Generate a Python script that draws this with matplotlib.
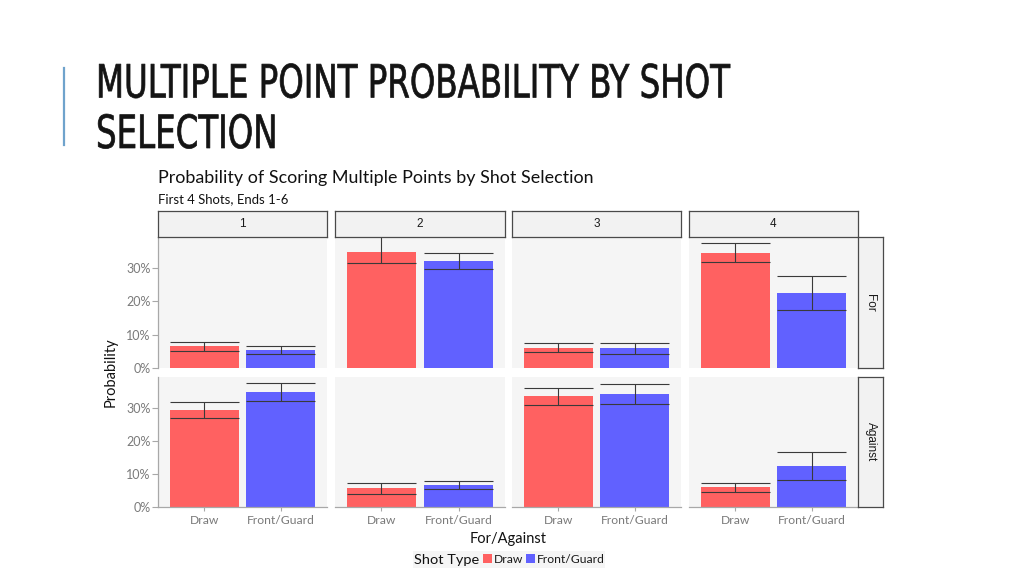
import matplotlib
matplotlib.use("Agg")
import matplotlib.pyplot as plt
from matplotlib import patheffects, font_manager
from matplotlib.transforms import Affine2D
from matplotlib.lines import Line2D
from matplotlib.patches import Rectangle

# ---------------- data ----------------
shots = ["1", "2", "3", "4"]
rows = ["For", "Against"]
shot_types = ["Draw", "Front/Guard"]

for_draw = [0.065, 0.348, 0.060, 0.346]
for_draw_lo = [0.051, 0.315, 0.047, 0.318]
for_draw_hi = [0.079, 0.400, 0.074, 0.374]
for_fg = [0.053, 0.320, 0.060, 0.226]
for_fg_lo = [0.041, 0.296, 0.042, 0.175]
for_fg_hi = [0.067, 0.344, 0.076, 0.277]

against_draw = [0.293, 0.056, 0.335, 0.059]
against_draw_lo = [0.268, 0.039, 0.307, 0.044]
against_draw_hi = [0.316, 0.073, 0.361, 0.072]
against_fg = [0.348, 0.067, 0.342, 0.124]
against_fg_lo = [0.319, 0.054, 0.310, 0.083]
against_fg_hi = [0.375, 0.080, 0.372, 0.165]

y_ticks = [0.0, 0.1, 0.2, 0.3]
y_tick_labels = ["0%", "10%", "20%", "30%"]

slide_title = ["MULTIPLE POINT PROBABILITY BY SHOT", "SELECTION"]
chart_title = "Probability of Scoring Multiple Points by Shot Selection"
chart_subtitle = "First 4 Shots, Ends 1-6"
legend_title = "Shot Type"

values = {
    "For": [(for_draw, for_draw_lo, for_draw_hi), (for_fg, for_fg_lo, for_fg_hi)],
    "Against": [(against_draw, against_draw_lo, against_draw_hi),
                (against_fg, against_fg_lo, against_fg_hi)],
}

# ---------------- style ----------------
RED = "#FF6161"
BLUE = "#6161FF"
colors = [RED, BLUE]
PANEL_BG = "#F5F5F5"
STRIP_BG = "#F2F2F2"
AXIS_GRAY = "#A8A8A8"
TICK_GRAY = "#7A7A7A"
TITLE_COLOR = "#141414"
CHART_FONT = ["Lato", "DejaVu Sans"]
STRIP_FONT = ["Liberation Sans", "DejaVu Sans"]

installed = {f.name for f in font_manager.fontManager.ttflist}
if "Liberation Sans Narrow" in installed:
    TITLE_FONT = ["Liberation Sans Narrow", "DejaVu Sans"]
    TITLE_STRETCH = "normal"
else:
    TITLE_FONT = ["DejaVu Sans"]
    TITLE_STRETCH = "condensed"

W, H = 1024, 576
fig = plt.figure(figsize=(W / 100, H / 100), dpi=100)
fig.patch.set_facecolor("white")
renderer = fig.canvas.get_renderer()


def rect(x0, y0, x1, y1):
    return [x0 / W, 1 - y1 / H, (x1 - x0) / W, (y1 - y0) / H]


def fx(x):
    return x / W


def fy(y):
    return 1 - y / H


class Condense(patheffects.AbstractPathEffect):
    """Horizontally condense glyphs and add a thin outline to thicken strokes."""

    def __init__(self, sx, lw=0.0, color="black"):
        super().__init__()
        self.sx = sx
        self.lw = lw
        self.color = color

    def draw_path(self, renderer, gc, tpath, affine, rgbFace=None):
        tr = Affine2D().scale(self.sx, 1) + affine
        gc0 = renderer.new_gc()
        gc0.copy_properties(gc)
        gc0.set_linewidth(self.lw)
        gc0.set_foreground(self.color)
        gc0.set_joinstyle("round")
        renderer.draw_path(gc0, tpath, tr, rgbFace)
        gc0.restore()


def fit_width(t, target):
    w = t.get_window_extent(renderer).width
    t.set_fontsize(t.get_fontsize() * target / w)


# ---------------- slide title ----------------
fig.add_artist(Line2D([fx(64), fx(64)], [fy(68), fy(145)], color="#6FA3CC", lw=1.6))
t1 = fig.text(fx(96), fy(97.5), slide_title[0], fontsize=33, color=TITLE_COLOR,
              family=TITLE_FONT, stretch=TITLE_STRETCH, weight="normal",
              va="baseline", ha="left")
t2 = fig.text(fx(96), fy(148), slide_title[1], fontsize=33, color=TITLE_COLOR,
              family=TITLE_FONT, stretch=TITLE_STRETCH, weight="normal",
              va="baseline", ha="left")
w1 = t1.get_window_extent(renderer).width
if 96 + w1 > 1015:
    scale = (1015 - 96) / w1
    t1.set_fontsize(33 * scale)
    t2.set_fontsize(33 * scale)
    w1 = t1.get_window_extent(renderer).width
sx = (730 - 96) / w1
t1.set_path_effects([Condense(sx, lw=0.5, color=TITLE_COLOR)])
t2.set_path_effects([Condense(sx, lw=0.5, color=TITLE_COLOR)])

# ---------------- chart titles ----------------
ct = fig.text(fx(158), fy(183), chart_title, fontsize=12.5, color="#111111",
              family=CHART_FONT, va="baseline", ha="left")
fit_width(ct, 592 - 158)
st = fig.text(fx(158), fy(203), chart_subtitle, fontsize=9.5, color="#111111",
              family=CHART_FONT, va="baseline", ha="left")
fit_width(st, 289 - 158)

# ---------------- panels ----------------
cols_px = [(158, 327), (335, 505), (512, 681), (689, 858)]
rows_px = [(237, 368), (377, 507)]
xpos = [1, 2]
bar_w = 0.9

first_bars = None
for r, row in enumerate(rows):
    for c, shot in enumerate(shots):
        x0, x1 = cols_px[c]
        y0, y1 = rows_px[r]
        ax = fig.add_axes(rect(x0, y0, x1, y1))
        ax.set_facecolor(PANEL_BG)
        heights = [values[row][k][0][c] for k in range(2)]
        los = [values[row][k][1][c] for k in range(2)]
        his = [values[row][k][2][c] for k in range(2)]
        bars = ax.bar(xpos, heights, width=bar_w, color=colors, zorder=2,
                      label=shot_types)
        if first_bars is None:
            first_bars = bars
        for k in range(2):
            ax.hlines([los[k], his[k]], xpos[k] - bar_w / 2, xpos[k] + bar_w / 2,
                      color="#3A3A3A", lw=0.8, zorder=3)
            ax.vlines(xpos[k], los[k], his[k], color="#3A3A3A", lw=0.8, zorder=3)
        ax.set_xlim(0.4, 2.6)
        ax.set_ylim(0, 0.393)
        for s in ax.spines.values():
            s.set_visible(False)
        ax.set_yticks(y_ticks)
        ax.set_xticks(xpos)
        if c == 0:
            ax.spines["left"].set_visible(True)
            ax.spines["left"].set_color(AXIS_GRAY)
            ax.spines["left"].set_linewidth(0.9)
            ax.set_yticklabels(y_tick_labels, fontsize=9, color=TICK_GRAY,
                               family=CHART_FONT)
            ax.tick_params(axis="y", length=4, width=0.8, color=AXIS_GRAY, pad=1.5)
        else:
            ax.tick_params(axis="y", length=0, labelleft=False)
        if r == 1:
            ax.spines["bottom"].set_visible(True)
            ax.spines["bottom"].set_color(AXIS_GRAY)
            ax.spines["bottom"].set_linewidth(0.9)
            ax.set_xticklabels(shot_types, fontsize=8.7, color=TICK_GRAY,
                               family=CHART_FONT)
            ax.tick_params(axis="x", length=3, width=0.8, color=AXIS_GRAY, pad=2.5)
        else:
            ax.tick_params(axis="x", length=0, labelbottom=False)

# ---------------- strips ----------------
for c, shot in enumerate(shots):
    x0, x1 = cols_px[c]
    sax = fig.add_axes(rect(x0, 211, x1, 237))
    sax.set_facecolor(STRIP_BG)
    sax.set_xticks([])
    sax.set_yticks([])
    for s in sax.spines.values():
        s.set_color("#4A4A4A")
        s.set_linewidth(0.9)
    sax.text(0.5, 0.5, shot, transform=sax.transAxes, ha="center", va="center",
             fontsize=8.5, color="#1A1A1A", family=STRIP_FONT)

for r, row in enumerate(rows):
    y0, y1 = rows_px[r]
    sax = fig.add_axes(rect(858, y0, 883, y1))
    sax.set_facecolor(STRIP_BG)
    sax.set_xticks([])
    sax.set_yticks([])
    for s in sax.spines.values():
        s.set_color("#4A4A4A")
        s.set_linewidth(0.9)
    sax.text(0.5, 0.5, row, transform=sax.transAxes, ha="center", va="center",
             rotation=-90, fontsize=8.5, color="#1A1A1A", family=STRIP_FONT)

# ---------------- axis labels ----------------
fig.text(fx(111), fy(372), "Probability", rotation=90, ha="center", va="center",
         fontsize=10.5, color="#111111", family=CHART_FONT)
fig.text(fx(508), fy(543), "For/Against", ha="center", va="baseline",
         fontsize=10.5, color="#111111", family=CHART_FONT)

# ---------------- legend ----------------
fig.add_artist(Rectangle((fx(413), fy(568)), (605 - 413) / W, (568 - 551) / H,
                         transform=fig.transFigure, facecolor="#F5F5F5",
                         edgecolor="none", zorder=0))
lt = fig.text(fx(414), fy(564), legend_title, ha="left", va="baseline",
              fontsize=10.5, color="#111111", family=CHART_FONT, zorder=2)
fit_width(lt, 479 - 414)
leg = fig.legend(handles=list(first_bars), labels=shot_types, ncol=2,
                 loc="center left", bbox_to_anchor=(fx(482), fy(559.5)),
                 frameon=False, fontsize=8.7, handlelength=0.75,
                 handleheight=0.75, handletextpad=0.15, columnspacing=0.2,
                 borderpad=0.1, borderaxespad=0)
for txt in leg.get_texts():
    txt.set_family(CHART_FONT)
    txt.set_color("#1A1A1A")

fig.savefig("out.png", dpi=100, facecolor="white")
